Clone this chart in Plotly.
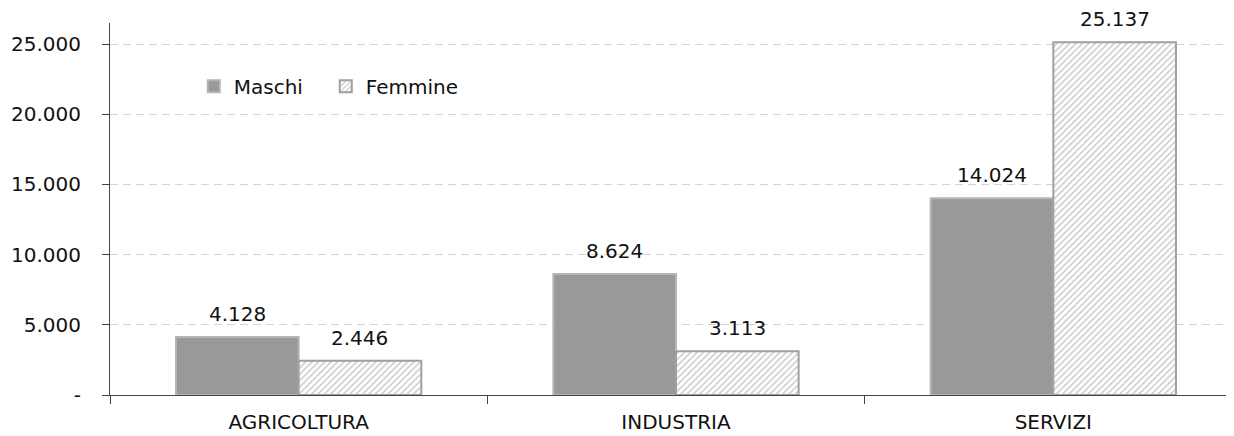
import plotly.graph_objects as go

categories = ["AGRICOLTURA", "INDUSTRIA", "SERVIZI"]
maschi = [4128, 8624, 14024]
femmine = [2446, 3113, 25137]
ytick_vals = [0, 5000, 10000, 15000, 20000, 25000]
ytick_text = ["-", "5.000", "10.000", "15.000", "20.000", "25.000"]

def fmt(v):
    return f"{v:,}".replace(",", ".")

FONT = "DejaVu Sans"
BARGAP = 0.35
half = (1 - BARGAP) / 4  # offset of each bar centre from category centre

fig = go.Figure()
fig.add_trace(go.Bar(
    name="Maschi", x=categories, y=maschi,
    marker=dict(color="#999999", line=dict(color="#b5b5b5", width=2)),
))
fig.add_trace(go.Bar(
    name="Femmine", x=categories, y=femmine,
    marker=dict(color="white", line=dict(color="#a0a0a0", width=2),
                pattern=dict(shape="/", fgcolor="#999999", bgcolor="white", size=4.5, solidity=0.35)),
))

for i, (m, f) in enumerate(zip(maschi, femmine)):
    for xpos, val in ((i - half, m), (i + half, f)):
        fig.add_annotation(x=xpos, y=val, xref="x", yref="y", text=fmt(val),
                           showarrow=False, yanchor="middle", yshift=23,
                           font=dict(family=FONT, size=20, color="#111111"))

fig.update_layout(
    width=1234, height=436,
    margin=dict(l=102, r=0, t=15, b=49),
    paper_bgcolor="white", plot_bgcolor="white",
    barmode="group", bargap=BARGAP, bargroupgap=0,
    font=dict(family=FONT, size=16, color="#111111"),
    legend=dict(orientation="h", x=0.074, y=0.83, xanchor="left", yanchor="middle",
                font=dict(family=FONT, size=20, color="#111111"),
                bgcolor="rgba(0,0,0,0)", itemwidth=30, entrywidth=87),
    showlegend=True,
)
fig.update_xaxes(
    type="category", range=[-0.5, 2.5],
    showline=True, linecolor="#444444", linewidth=1,
    ticks="outside", tickson="boundaries", ticklen=8, tickcolor="#444444",
    tickfont=dict(family=FONT, size=20, color="#111111"),
    ticklabelstandoff=9,
    showgrid=False,
)
fig.update_yaxes(
    range=[0, 26500],
    tickvals=ytick_vals, ticktext=ytick_text,
    showline=True, linecolor="#444444", linewidth=1,
    ticks="outside", ticklen=7, tickcolor="#444444",
    tickfont=dict(family=FONT, size=20, color="#111111"),
    ticklabelstandoff=17,
    showgrid=True, gridcolor="#d4d4d4", griddash="8px,5px", gridwidth=1,
    zeroline=False,
)

fig.write_html("out.html")
